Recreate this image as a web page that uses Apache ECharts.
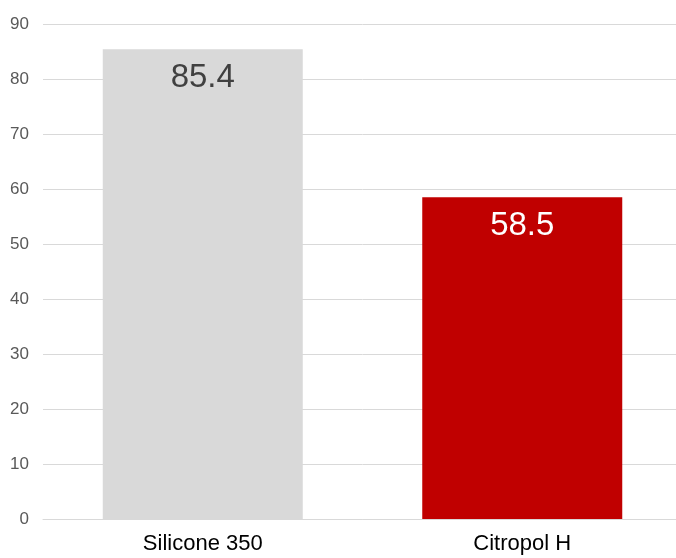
<!DOCTYPE html>
<html><head><meta charset="utf-8">
<script src="https://cdn.jsdelivr.net/npm/echarts@6/dist/echarts.min.js"></script>
<style>html,body{margin:0;padding:0;background:#fff;overflow:hidden}#c{width:700px;height:558px}</style>
</head><body><div id="c"></div>
<script>
const categories = ['Silicone 350', 'Citropol H'];
const values = [85.4, 58.5];
const barColors = ['#D9D9D9', '#C00000'];
const labelColors = ['#404040', '#FFFFFF'];

const chart = echarts.init(document.getElementById('c'));
chart.setOption({
  animation: false,
  textStyle: { fontFamily: 'Liberation Sans, Arial, sans-serif' },
  grid: { left: 43, top: 24, width: 639, height: 495, containLabel: false },
  xAxis: {
    type: 'category', data: categories,
    axisLine: { show: true, lineStyle: { color: '#D9D9D9' } },
    axisTick: { show: false },
    axisLabel: { color: '#000', fontSize: 22, margin: 14, fontFamily: 'Liberation Sans, Arial, sans-serif' }
  },
  yAxis: {
    type: 'value', min: 0, max: 90, interval: 10,
    axisLine: { show: false }, axisTick: { show: false },
    splitLine: { lineStyle: { color: '#D9D9D9' } },
    axisLabel: { color: '#595959', fontSize: 17, margin: 14, fontFamily: 'Liberation Sans, Arial, sans-serif' }
  },
  series: [{
    type: 'bar', barWidth: 200,
    data: values.map((v, i) => ({
      value: v,
      itemStyle: { color: barColors[i] },
      label: { color: labelColors[i] }
    })),
    label: { show: true, position: 'insideTop', distance: 12, fontSize: 33, fontFamily: 'Liberation Sans, Arial, sans-serif' }
  }]
});
</script></body></html>
